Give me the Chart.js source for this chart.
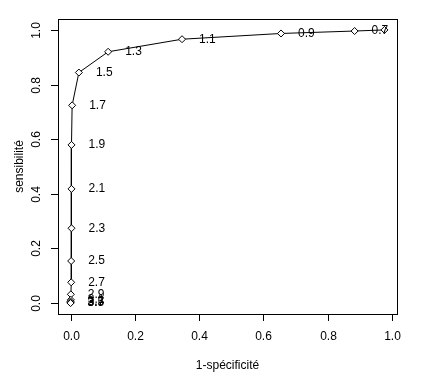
<!DOCTYPE html>
<html>
<head>
<meta charset="utf-8">
<script src="https://cdn.jsdelivr.net/npm/chart.js@4"></script>
<style>
  body { margin: 0; background: #fff; }
  #wrap { width: 425px; height: 385px; }
</style>
</head>
<body>
<div id="wrap"><canvas id="canvas" width="425" height="385"></canvas></div>
<script>
// seuils (labels next to each point)
const seuils = ["0.5", "0.7", "0.9", "1.1", "1.3", "1.5", "1.7", "1.9", "2.1", "2.3", "2.5", "2.7", "2.9", "3.1", "3.3", "3.5", "3.7"];
// 1 - specificite
const fpr = [0.977, 0.884, 0.655, 0.347, 0.117, 0.026, 0.005, 0.003, 0.003, 0.003, 0.002, 0.002, 0.001, 0.001, 0, 0, 0];
// sensibilite
const sens = [1.0, 0.996, 0.987, 0.966, 0.920, 0.844, 0.724, 0.579, 0.418, 0.274, 0.154, 0.076, 0.032, 0.012, 0.006, 0.002, 0];
const tickVals = [0, 0.2, 0.4, 0.6, 0.8, 1.0];

const FONT = "12px 'Liberation Sans', Arial, Helvetica, sans-serif";

// R-like axes, box and point labels
const rAxes = {
  id: "rAxes",
  afterDraw(chart) {
    const ctx = chart.ctx;
    const a = chart.chartArea;
    const xs = chart.scales.x, ys = chart.scales.y;
    ctx.save();
    ctx.strokeStyle = "#000";
    ctx.fillStyle = "#000";
    ctx.lineWidth = 1;
    ctx.font = FONT;

    // box
    ctx.strokeRect(Math.round(a.left) + 0.5, Math.round(a.top) + 0.5,
      Math.round(a.right - a.left), Math.round(a.bottom - a.top));

    // x axis ticks
    ctx.textAlign = "center";
    ctx.textBaseline = "middle";
    tickVals.forEach(v => {
      const px = Math.round(xs.getPixelForValue(v)) + 0.5;
      ctx.beginPath();
      ctx.moveTo(px, a.bottom);
      ctx.lineTo(px, a.bottom + 7);
      ctx.stroke();
      ctx.fillText(v.toFixed(1), px, a.bottom + 23);
    });
    ctx.fillText("1-spécificité", (a.left + a.right) / 2, 366);

    // y axis ticks
    tickVals.forEach(v => {
      const py = Math.round(ys.getPixelForValue(v)) + 0.5;
      ctx.beginPath();
      ctx.moveTo(a.left, py);
      ctx.lineTo(a.left - 7, py);
      ctx.stroke();
      ctx.save();
      ctx.translate(a.left - 21, py);
      ctx.rotate(-Math.PI / 2);
      ctx.fillText(v.toFixed(1), 0, 0);
      ctx.restore();
    });
    ctx.save();
    ctx.translate(20, (a.top + a.bottom) / 2);
    ctx.rotate(-Math.PI / 2);
    ctx.fillText("sensibilité", 0, 0);
    ctx.restore();

    // threshold labels, clipped to plot region
    ctx.beginPath();
    ctx.rect(a.left, a.top, a.right - a.left, a.bottom - a.top);
    ctx.clip();
    ctx.textAlign = "left";
    seuils.forEach((s, i) => {
      const px = xs.getPixelForValue(fpr[i]) + 17;
      const py = ys.getPixelForValue(sens[i]);
      ctx.fillText(s, px, py);
    });
    ctx.restore();
  }
};

const ctx = document.getElementById("canvas").getContext("2d");
new Chart(ctx, {
  type: "scatter",
  data: {
    datasets: [{
      data: fpr.map((x, i) => ({ x: x, y: sens[i] })),
      showLine: true,
      borderColor: "#000",
      borderWidth: 1,
      pointStyle: "rectRot",
      pointRadius: 3.5,
      pointBorderWidth: 1,
      pointBorderColor: "#000",
      pointBackgroundColor: "#fff",
      tension: 0
    }]
  },
  options: {
    responsive: false,
    animation: false,
    layout: { padding: { left: 58, top: 19, right: 28, bottom: 71 } },
    plugins: { legend: { display: false }, tooltip: { enabled: false } },
    scales: {
      x: { type: "linear", min: -0.039, max: 1.016, display: false },
      y: { type: "linear", min: -0.04, max: 1.04, display: false }
    }
  },
  plugins: [rAxes]
});
</script>
</body>
</html>
